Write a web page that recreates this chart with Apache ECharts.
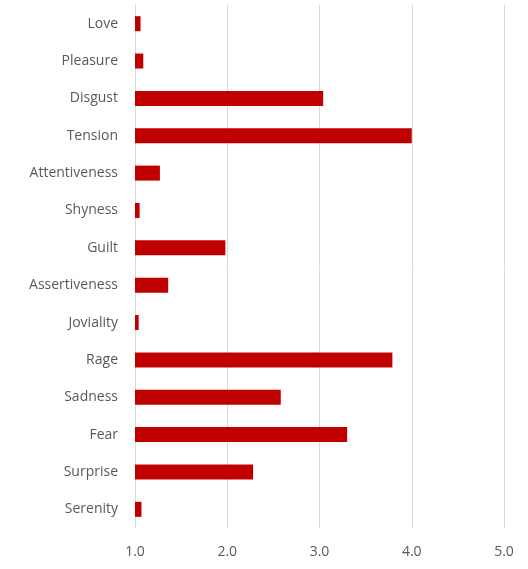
<!DOCTYPE html>
<html>
<head>
<meta charset="utf-8">
<script src="https://cdn.jsdelivr.net/npm/echarts@6/dist/echarts.min.js"></script>
<style>
  html, body { margin: 0; padding: 0; background: #fff; }
  #chart { width: 528px; height: 569px; }
</style>
</head>
<body>
<div id="chart"></div>
<script>
// categories listed top to bottom
const emotions = ['Love', 'Pleasure', 'Disgust', 'Tension', 'Attentiveness', 'Shyness', 'Guilt',
  'Assertiveness', 'Joviality', 'Rage', 'Sadness', 'Fear', 'Surprise', 'Serenity']
const scores = [1.06, 1.09, 3.04, 4.0, 1.27, 1.05, 1.98, 1.36, 1.04, 3.79, 2.58, 3.30, 2.28, 1.07]
const axisMin = 1
const axisMax = 5
const axisStep = 1

const chart = echarts.init(document.getElementById('chart'))

const textFont = { fontFamily: 'Open Sans', fontSize: 14, color: '#595959' }

chart.setOption({
  animation: false,
  grid: { left: 135, right: 24, top: 5, bottom: 41, containLabel: false },
  xAxis: {
    type: 'value',
    min: axisMin,
    max: axisMax,
    interval: axisStep,
    axisLine: { show: false },
    axisTick: { show: false },
    splitLine: { show: true, showMinLine: true, lineStyle: { color: '#d9d9d9', width: 1 } },
    axisLabel: {
      ...textFont,
      margin: 17,
      formatter: (v) => v.toFixed(1)
    }
  },
  yAxis: {
    type: 'category',
    data: emotions,
    inverse: true,
    axisLine: { show: true, lineStyle: { color: '#d9d9d9', width: 1 } },
    axisTick: { show: false },
    axisLabel: { ...textFont, margin: 17 }
  },
  series: [{
    type: 'bar',
    data: scores,
    clip: true,
    barWidth: 15,
    itemStyle: { color: '#c00000' }
  }]
})
</script>
</body>
</html>
